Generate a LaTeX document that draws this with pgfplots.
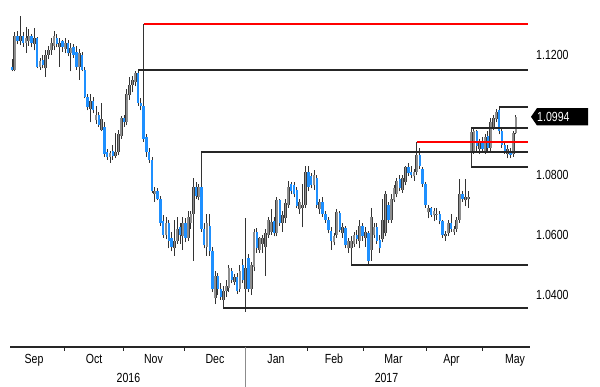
\documentclass[border=0pt]{standalone}
\usepackage{pgfplots}
\usepackage{pgfplotstable}
\pgfplotsset{compat=1.18}
\usepackage{fontspec}
\setmainfont{Liberation Sans}[FakeStretch=0.8]
\definecolor{upgrey}{HTML}{8E8E8E}
\definecolor{upedge}{HTML}{3C3C3C}
\definecolor{dnblue}{HTML}{1E90FF}
\definecolor{wick}{HTML}{333333}

\pgfplotstableread{
x o h l c
14.8 1.1150 1.1275 1.1145 1.1262
20.4 1.1245 1.1330 1.1232 1.1262
26.0 1.1240 1.1293 1.1207 1.1258
28.8 1.1245 1.1285 1.1230 1.1262
34.4 1.1235 1.1290 1.1215 1.1255
40.0 1.1160 1.1190 1.1150 1.1180
45.6 1.1155 1.1215 1.1127 1.1200
48.4 1.1200 1.1230 1.1185 1.1217
51.2 1.1215 1.1255 1.1200 1.1240
54.0 1.1230 1.1280 1.1215 1.1262
59.6 1.1225 1.1255 1.1160 1.1240
65.2 1.1220 1.1255 1.1205 1.1240
70.8 1.1205 1.1240 1.1145 1.1222
79.2 1.1160 1.1220 1.1117 1.1205
90.4 1.1020 1.1070 1.0975 1.1045
96.0 1.0983 1.1030 1.0970 1.1000
101.6 1.0950 1.1040 1.0945 1.0985
110.0 1.0860 1.0880 1.0840 1.0872
115.6 1.0862 1.0940 1.0855 1.0875
118.4 1.0875 1.0950 1.0865 1.0935
121.2 1.0930 1.0995 1.0920 1.0990
126.8 1.0975 1.1085 1.0965 1.1070
129.6 1.1065 1.1125 1.1050 1.1100
132.4 1.1100 1.1130 1.1075 1.1115
135.2 1.1110 1.1148 1.1095 1.1140
154.8 1.0735 1.0760 1.0710 1.0745
166.0 1.0600 1.0660 1.0585 1.0640
174.4 1.0555 1.0650 1.0530 1.0580
177.2 1.0580 1.0660 1.0570 1.0620
182.8 1.0595 1.0660 1.0550 1.0640
188.2 1.0590 1.0680 1.0580 1.0660
190.9 1.0640 1.0680 1.0620 1.0670
193.5 1.0670 1.0790 1.0515 1.0760
198.8 1.0725 1.0770 1.0715 1.0760
206.9 1.0560 1.0670 1.0530 1.0640
215.2 1.0390 1.0480 1.0370 1.0465
223.4 1.0385 1.0430 1.0357 1.0415
226.2 1.0415 1.0450 1.0395 1.0430
228.9 1.0425 1.0500 1.0410 1.0490
234.4 1.0445 1.0470 1.0435 1.0460
239.9 1.0420 1.0500 1.0410 1.0480
245.4 1.0420 1.0655 1.0345 1.0490
251.1 1.0420 1.0510 1.0400 1.0500
254.0 1.0495 1.0620 1.0480 1.0610
259.7 1.0550 1.0595 1.0540 1.0590
262.5 1.0570 1.0600 1.0540 1.0590
265.4 1.0560 1.0620 1.0465 1.0605
268.3 1.0600 1.0660 1.0590 1.0650
271.1 1.0610 1.0685 1.0600 1.0645
276.8 1.0605 1.0725 1.0595 1.0715
282.5 1.0640 1.0680 1.0610 1.0665
285.4 1.0655 1.0720 1.0640 1.0705
288.3 1.0700 1.0780 1.0690 1.0760
299.7 1.0685 1.0720 1.0670 1.0710
302.5 1.0690 1.0770 1.0625 1.0700
305.4 1.0700 1.0830 1.0690 1.0810
314.0 1.0765 1.0815 1.0750 1.0800
319.7 1.0685 1.0720 1.0670 1.0710
334.0 1.0575 1.0605 1.0565 1.0595
336.8 1.0600 1.0685 1.0590 1.0675
342.5 1.0605 1.0640 1.0590 1.0625
348.3 1.0555 1.0590 1.0540 1.0580
351.1 1.0555 1.0595 1.0500 1.0580
354.0 1.0570 1.0610 1.0560 1.0600
359.7 1.0580 1.0650 1.0555 1.0630
365.4 1.0590 1.0625 1.0560 1.0610
371.1 1.0550 1.0690 1.0515 1.0660
374.0 1.0600 1.0640 1.0590 1.0625
382.5 1.0585 1.0720 1.0575 1.0650
385.4 1.0605 1.0745 1.0595 1.0735
391.1 1.0650 1.0735 1.0640 1.0720
394.0 1.0715 1.0765 1.0710 1.0755
396.8 1.0735 1.0790 1.0725 1.0780
402.5 1.0750 1.0800 1.0740 1.0790
405.4 1.0775 1.0830 1.0765 1.0825
414.0 1.0795 1.0820 1.0780 1.0810
416.8 1.0810 1.0910 1.0800 1.0865
428.3 1.0675 1.0700 1.0655 1.0690
434.0 1.0665 1.0690 1.0645 1.0680
436.8 1.0665 1.0690 1.0650 1.0670
445.4 1.0595 1.0615 1.0580 1.0605
448.3 1.0605 1.0650 1.0595 1.0640
454.0 1.0610 1.0630 1.0600 1.0620
456.8 1.0620 1.0660 1.0610 1.0650
459.7 1.0650 1.0785 1.0640 1.0735
465.4 1.0715 1.0785 1.0695 1.0725
468.3 1.0720 1.0745 1.0690 1.0725
471.1 1.0873 1.0957 1.0827 1.0943
473.9 1.0880 1.0955 1.0870 1.0945
479.5 1.0885 1.0920 1.0870 1.0905
485.1 1.0880 1.0935 1.0870 1.0925
490.7 1.0890 1.0990 1.0880 1.0975
493.5 1.0960 1.1000 1.0950 1.0990
496.3 1.0985 1.1020 1.0975 1.1010
507.5 1.0870 1.0900 1.0855 1.0885
513.1 1.0870 1.0945 1.0860 1.0940
515.9 1.0940 1.1000 1.0935 1.0994
}\upc

\pgfplotstableread{
x o h l c
12.0 1.1160 1.1187 1.1145 1.1150
17.6 1.1262 1.1280 1.1235 1.1245
23.2 1.1262 1.1275 1.1228 1.1240
31.6 1.1262 1.1270 1.1225 1.1240
37.2 1.1255 1.1260 1.1155 1.1160
42.8 1.1182 1.1200 1.1155 1.1165
56.8 1.1255 1.1270 1.1225 1.1235
62.4 1.1245 1.1250 1.1210 1.1225
68.0 1.1240 1.1250 1.1195 1.1205
73.6 1.1225 1.1235 1.1190 1.1200
76.4 1.1210 1.1230 1.1150 1.1160
82.0 1.1200 1.1210 1.1145 1.1150
84.8 1.1150 1.1160 1.1055 1.1060
87.6 1.1060 1.1070 1.1015 1.1025
93.2 1.1045 1.1060 1.1005 1.1015
98.8 1.1000 1.1010 1.0960 1.0965
104.4 1.0960 1.0975 1.0860 1.0870
107.2 1.0875 1.0885 1.0850 1.0860
112.8 1.0880 1.0900 1.0850 1.0862
124.0 1.0990 1.1000 1.0960 1.0975
138.0 1.1140 1.1150 1.1030 1.1040
140.8 1.1040 1.1055 1.1015 1.1030
143.6 1.1030 1.1303 1.0910 1.0920
146.4 1.0925 1.0935 1.0860 1.0875
149.2 1.0875 1.0890 1.0840 1.0850
152.0 1.0850 1.0860 1.0740 1.0745
157.6 1.0745 1.0755 1.0715 1.0720
160.4 1.0720 1.0730 1.0630 1.0640
163.2 1.0645 1.0665 1.0590 1.0600
168.8 1.0640 1.0650 1.0555 1.0580
171.6 1.0590 1.0610 1.0545 1.0560
180.0 1.0625 1.0640 1.0570 1.0600
185.6 1.0640 1.0655 1.0575 1.0590
196.2 1.0760 1.0775 1.0720 1.0730
201.4 1.0760 1.0877 1.0610 1.0620
204.2 1.0620 1.0640 1.0555 1.0565
209.7 1.0630 1.0670 1.0530 1.0545
212.4 1.0545 1.0560 1.0410 1.0420
217.9 1.0465 1.0475 1.0400 1.0420
220.7 1.0420 1.0440 1.0385 1.0395
231.7 1.0480 1.0490 1.0440 1.0450
237.2 1.0460 1.0475 1.0405 1.0415
242.7 1.0500 1.0520 1.0440 1.0450
248.3 1.0525 1.0535 1.0410 1.0420
256.8 1.0610 1.0625 1.0540 1.0555
274.0 1.0645 1.0660 1.0595 1.0605
279.7 1.0715 1.0720 1.0630 1.0640
291.1 1.0770 1.0775 1.0735 1.0745
294.0 1.0765 1.0775 1.0725 1.0735
296.8 1.0750 1.0760 1.0690 1.0695
308.3 1.0810 1.0830 1.0745 1.0760
311.1 1.0795 1.0805 1.0755 1.0765
316.8 1.0790 1.0800 1.0690 1.0700
322.5 1.0710 1.0725 1.0660 1.0670
325.4 1.0670 1.0680 1.0640 1.0650
328.3 1.0650 1.0660 1.0605 1.0615
331.1 1.0615 1.0625 1.0550 1.0580
339.7 1.0675 1.0680 1.0610 1.0615
345.4 1.0625 1.0630 1.0555 1.0565
356.8 1.0600 1.0615 1.0570 1.0585
362.5 1.0630 1.0640 1.0580 1.0595
368.3 1.0605 1.0615 1.0505 1.0515
376.8 1.0625 1.0640 1.0570 1.0580
379.7 1.0585 1.0600 1.0540 1.0555
388.3 1.0700 1.0710 1.0640 1.0650
399.7 1.0785 1.0800 1.0745 1.0755
408.3 1.0825 1.0840 1.0795 1.0805
411.1 1.0810 1.0830 1.0790 1.0800
419.7 1.0865 1.0890 1.0820 1.0830
422.5 1.0820 1.0825 1.0760 1.0770
425.4 1.0770 1.0775 1.0690 1.0700
431.1 1.0690 1.0695 1.0660 1.0665
439.7 1.0670 1.0680 1.0635 1.0645
442.5 1.0645 1.0650 1.0590 1.0600
451.1 1.0640 1.0670 1.0610 1.0620
462.5 1.0735 1.0745 1.0710 1.0720
476.7 1.0945 1.0950 1.0880 1.0895
482.3 1.0910 1.0925 1.0875 1.0885
487.9 1.0930 1.0945 1.0880 1.0890
499.1 1.1015 1.1027 1.0935 1.0945
501.9 1.0945 1.0955 1.0890 1.0900
504.7 1.0900 1.0910 1.0870 1.0875
510.3 1.0880 1.0890 1.0855 1.0865
}\dnc

\begin{document}
\fontsize{13.2bp}{15bp}\selectfont
\begin{tikzpicture}
\useasboundingbox (0,0) rectangle (600bp,387bp);
\begin{axis}[
  at={(10bp,40bp)}, anchor=south west,
  scale only axis, width=520bp, height=342bp,
  xmin=10, xmax=530, ymin=1.022667, ymax=1.136667,
  clip=false,
  axis x line*=bottom, axis y line*=right,
  y axis line style={draw=none},
  x axis line style={-, line width=1.1bp, draw=black!85},
  tick align=outside,
  major tick length=0pt,
  minor tick length=4bp,
  xtick={34,94,153.5,215,276,334,393.5,451.5,515},
  xticklabels={Sep,Oct,Nov,Dec,Jan,Feb,Mar,Apr,May},
  minor xtick={64.4,123.4,184.5,245.6,307,363.2,426.5,482.7},
  minor x tick style={line width=1bp, draw=black!85},
  xticklabel style={inner sep=0pt, text height=9.5bp, text depth=2.5bp, yshift=-7bp, anchor=north},
  ytick={1.04,1.06,1.08,1.12},
  yticklabels={1.0400,1.0600,1.0800,1.1200},
  yticklabel style={anchor=west, inner sep=0pt, xshift=6bp, text height=9.3bp, text depth=0pt},
]
% wicks
\addplot[draw=none, mark=none, error bars/.cd, y dir=plus, y explicit, error mark=none,
  error bar style={line width=0.9bp, draw=wick}]
  table[x=x, y=l, y error plus expr=\thisrow{h}-\thisrow{l}] {\upc};
\addplot[draw=none, mark=none, error bars/.cd, y dir=plus, y explicit, error mark=none,
  error bar style={line width=0.9bp, draw=wick}]
  table[x=x, y=l, y error plus expr=\thisrow{h}-\thisrow{l}] {\dnc};
% up bodies
\addplot[draw=none, mark=none, error bars/.cd, y dir=plus, y explicit, error mark=none,
  error bar style={line width=2.8bp, draw=upedge}]
  table[x=x, y=o, y error plus expr=\thisrow{c}-\thisrow{o}] {\upc};
\addplot[draw=none, mark=none, error bars/.cd, y dir=plus, y explicit, error mark=none,
  error bar style={line width=1.7bp, draw=upgrey}]
  table[x=x, y=o, y error plus expr=\thisrow{c}-\thisrow{o}] {\upc};
% down bodies
\addplot[draw=none, mark=none, error bars/.cd, y dir=plus, y explicit, error mark=none,
  error bar style={line width=2.4bp, draw=dnblue}]
  table[x=x, y=c, y error plus expr=\thisrow{o}-\thisrow{c}] {\dnc};
% levels
\addplot[red, line width=1.3bp] coordinates {(143.6,1.1303) (528,1.1303)};
\addplot[black!85, line width=1.3bp] coordinates {(138,1.1150) (528,1.1150)};
\addplot[black!85, line width=1.3bp] coordinates {(201.4,1.0877) (528,1.0877)};
\addplot[red, line width=1.3bp] coordinates {(416.8,1.0910) (528,1.0910)};
\addplot[black!85, line width=1.3bp] coordinates {(471.1,1.0957) (528,1.0957)};
\addplot[black!85, line width=1.3bp] coordinates {(471.1,1.0827) (528,1.0827)};
\addplot[black!85, line width=1.3bp] coordinates {(499.1,1.1027) (528,1.1027)};
\addplot[black!85, line width=1.3bp] coordinates {(351.1,1.0500) (528,1.0500)};
\addplot[black!85, line width=1.3bp] coordinates {(223.4,1.0357) (528,1.0357)};
% last price tag
\fill[black] (axis cs:531,1.0994) -- (axis cs:537,1.1023) -- (axis cs:588,1.1023)
  -- (axis cs:588,1.0965) -- (axis cs:537,1.0965) -- cycle;
\node[anchor=west, inner sep=0pt, text=white, text height=9.3bp, text depth=0pt] at (axis cs:537,1.0994) {1.0994};
% year separator and labels
\draw[black!45, line width=0.6bp] (axis cs:245.6,1.022667) -- (axis cs:245.6,1.009333);
\node[anchor=north, inner sep=0pt, text height=9.5bp, text depth=0pt, yshift=-26bp] at (axis cs:128.4,1.022667) {2016};
\node[anchor=north, inner sep=0pt, text height=9.5bp, text depth=0pt, yshift=-26bp] at (axis cs:386.5,1.022667) {2017};
\end{axis}
\end{tikzpicture}
\end{document}
